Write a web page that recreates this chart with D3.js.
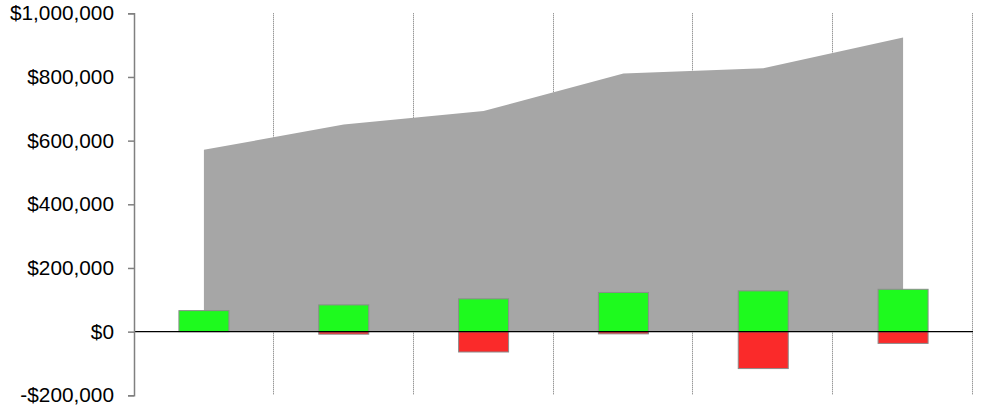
<!DOCTYPE html>
<html>
<head>
<meta charset="utf-8">
<script src="https://cdn.jsdelivr.net/npm/d3@7"></script>
<style>
  html, body { margin: 0; padding: 0; background: #fff; }
  svg { display: block; }
</style>
</head>
<body>
<svg id="chart" width="981" height="408"></svg>
<script>
// Periods along the x axis (unlabelled)
const periods = ["P1", "P2", "P3", "P4", "P5", "P6"];
// Running balance drawn as the grey area
const balance = [571000, 651000, 693000, 811000, 827000, 924000];
// Inflows (green) and outflows (red) per period
const inflows = [66000, 84000, 103000, 123000, 128000, 133000];
const outflows = [0, -8000, -64000, -7000, -116000, -37000];
// Value axis ticks
const yTicks = [-200000, 0, 200000, 400000, 600000, 800000, 1000000];

(function () {
  const svg = d3.select("#chart");
  const plotLeft = 134, plotRight = 973, plotTop = 13.3, plotBottom = 395.3;

  const x = d3.scaleBand().domain(periods).range([plotLeft, plotRight]).padding(0);
  const y = d3.scaleLinear().domain([-200000, 1000000]).range([plotBottom, plotTop]);
  const cx = d => x(d) + x.bandwidth() / 2;
  const barW = 50;

  // Vertical dashed separators between periods
  svg.append("g").selectAll("line")
    .data(periods)
    .join("line")
    .attr("x1", d => Math.round(x(d) + x.bandwidth()) - 0.5)
    .attr("x2", d => Math.round(x(d) + x.bandwidth()) - 0.5)
    .attr("y1", plotTop)
    .attr("y2", plotBottom)
    .attr("stroke", "#6e6e6e")
    .attr("stroke-width", 1)
    .attr("stroke-dasharray", "1,1");

  // Balance area
  const area = d3.area()
    .x((d, i) => cx(periods[i]))
    .y0(y(0))
    .y1(d => y(d));
  svg.append("path")
    .datum(balance)
    .attr("d", area)
    .attr("fill", "#a6a6a6");

  // Outflow bars
  svg.append("g").selectAll("rect")
    .data(outflows.map((v, i) => ({ p: periods[i], v })).filter(d => d.v !== 0))
    .join("rect")
    .attr("x", d => cx(d.p) - barW / 2)
    .attr("y", y(0))
    .attr("width", barW)
    .attr("height", d => y(d.v) - y(0))
    .attr("fill", "#fa2a2a")
    .attr("stroke", "#8c8c8c")
    .attr("stroke-width", 1);

  // Inflow bars
  svg.append("g").selectAll("rect")
    .data(inflows.map((v, i) => ({ p: periods[i], v })))
    .join("rect")
    .attr("x", d => cx(d.p) - barW / 2)
    .attr("y", d => y(d.v))
    .attr("width", barW)
    .attr("height", d => y(0) - y(d.v))
    .attr("fill", "#1efa1e")
    .attr("stroke", "#8c8c8c")
    .attr("stroke-width", 1);

  // Zero baseline
  svg.append("line")
    .attr("x1", plotLeft).attr("x2", plotRight)
    .attr("y1", y(0)).attr("y2", y(0))
    .attr("stroke", "#000").attr("stroke-width", 1.2);

  // Value axis
  const fmt = v => (v < 0 ? "-$" : "$") + d3.format(",")(Math.abs(v));
  const yAxis = svg.append("g")
    .attr("transform", `translate(${plotLeft},0)`)
    .call(d3.axisLeft(y).tickValues(yTicks).tickFormat(fmt).tickSize(6).tickPadding(14));
  yAxis.select(".domain").attr("stroke", "#808080").attr("stroke-width", 1.5);
  yAxis.selectAll(".tick line").attr("stroke", "#808080").attr("stroke-width", 1.5);
  yAxis.selectAll(".tick text")
    .attr("fill", "#000")
    .style("font-family", "'Liberation Sans', Arial, sans-serif")
    .style("font-size", "20.8px");
})();
</script>
</body>
</html>
